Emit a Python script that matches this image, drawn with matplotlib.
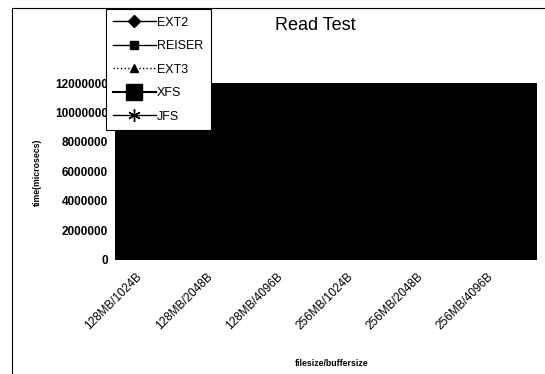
import matplotlib.pyplot as plt
from matplotlib.lines import Line2D
from matplotlib.transforms import ScaledTranslation

plt.rcParams['font.family'] = ['Liberation Sans', 'DejaVu Sans']

# filesize/buffersize combinations on the x axis
categories = ['128MB/1024B', '128MB/2048B', '128MB/4096B',
              '256MB/1024B', '256MB/2048B', '256MB/4096B']

# read times in microseconds (lines are lost in the dark plot area of the scan)
ext2 = [5200000, 5100000, 5000000, 10400000, 10300000, 10200000]
reiser = [5600000, 5500000, 5400000, 11200000, 11000000, 10900000]
ext3 = [5400000, 5300000, 5200000, 10800000, 10700000, 10600000]
xfs = [5000000, 4900000, 4800000, 10000000, 9900000, 9800000]
jfs = [5300000, 5200000, 5100000, 10600000, 10500000, 10400000]

yticks = [0, 2000000, 4000000, 6000000, 8000000, 10000000, 12000000]

fig = plt.figure(figsize=(5.45, 3.74), dpi=100)
ax = fig.add_axes([0.211, 0.305, 0.774, 0.473])
ax.set_facecolor('black')

x = list(range(len(categories)))
ax.plot(x, ext2, color='black', marker='D', ms=6, lw=1, label='EXT2')
ax.plot(x, reiser, color='black', marker='s', ms=6, lw=1, label='REISER')
ax.plot(x, ext3, color='black', marker='^', ms=6, lw=1, ls=':', label='EXT3')
ax.plot(x, xfs, color='black', marker='s', ms=12, lw=1.5, label='XFS')
ax.plot(x, jfs, color='black', marker=(6, 2, 0), ms=9, lw=1, label='JFS')

ax.set_xlim(-0.5, len(categories) - 0.5)
ax.set_ylim(0, 12000000)
ax.set_yticks(yticks)
ax.set_yticklabels([str(v) for v in yticks], fontsize=8.5, fontweight='bold')
ax.set_xticks(x)
ax.tick_params(axis='y', length=0, pad=5)
ax.tick_params(axis='x', length=0, pad=11)
ax.set_xticklabels(categories, rotation=45, ha='right', va='center',
                   rotation_mode='anchor', fontsize=8.5)
shift = ScaledTranslation(-0.10, 0, fig.dpi_scale_trans)
for lab in ax.get_xticklabels():
    lab.set_transform(lab.get_transform() + shift)
for s in ax.spines.values():
    s.set_visible(False)

fig.text(0.068, 0.54, 'time(microsecs)', fontsize=6.3, fontweight='bold',
         rotation=90, ha='center', va='center')
fig.text(0.609, 0.029, 'filesize/buffersize', fontsize=6.3, fontweight='bold',
         ha='center', va='center')
fig.text(0.579, 0.933, 'Read Test', fontsize=13, ha='center', va='center')

leg = ax.legend(loc='upper left', bbox_to_anchor=(0.194, 0.975),
                bbox_transform=fig.transFigure, fontsize=9, frameon=True,
                fancybox=False, edgecolor='black', framealpha=1,
                handlelength=3.4, labelspacing=0.92, borderpad=0.6,
                handletextpad=0.1, borderaxespad=0)
leg.get_frame().set_linewidth(0.8)

# frame of the scanned page
fig.add_artist(Line2D([0.022, 0.022], [0.0, 0.979], color='black', lw=0.8))
fig.add_artist(Line2D([0.022, 1.0], [0.979, 0.979], color='black', lw=0.8))

fig.savefig('out.png', dpi=100)
